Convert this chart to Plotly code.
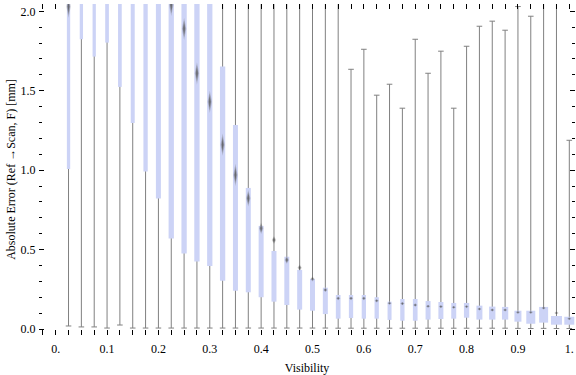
import plotly.graph_objects as go

# ---- data ----
visibility = [0.025, 0.05, 0.075, 0.1, 0.125, 0.15, 0.175, 0.2, 0.225, 0.25,
              0.275, 0.3, 0.325, 0.35, 0.375, 0.4, 0.425, 0.45, 0.475, 0.5,
              0.525, 0.55, 0.575, 0.6, 0.625, 0.65, 0.675, 0.7, 0.725, 0.75,
              0.775, 0.8, 0.825, 0.85, 0.875, 0.9, 0.925, 0.95, 0.975, 1.0]

whisker_low = [0.019, 0.013, 0.013, 0.006, 0.025, 0.006, 0.006, 0.006, 0.006, 0.006,
               0.006, 0.006, 0.006, 0.006, 0.006, 0.006, 0.006, 0.006, 0.006, 0.006,
               0.006, 0.005, 0.005, 0.005, 0.005, 0.005, 0.005, 0.005, 0.005, 0.005,
               0.005, 0.005, 0.005, 0.005, 0.005, 0.004, 0.003, 0.004, 0.003, 0.003]

q1 = [1.008, 1.824, 1.715, 1.803, 1.524, 1.297, 0.991, 0.821, 0.569, 0.476,
      0.425, 0.397, 0.304, 0.241, 0.231, 0.200, 0.172, 0.151, 0.122, 0.115,
      0.094, 0.065, 0.069, 0.065, 0.065, 0.057, 0.052, 0.052, 0.059, 0.063,
      0.065, 0.071, 0.059, 0.059, 0.059, 0.046, 0.033, 0.040, 0.027, 0.027]

median = [2.03, 2.30, 2.25, 2.30, 2.20, 2.15, 2.20, 2.15, 2.04, 1.89,
          1.61, 1.43, 1.16, 0.97, 0.823, 0.634, 0.560, 0.435, 0.386, 0.315,
          0.246, 0.193, 0.193, 0.193, 0.178, 0.162, 0.160, 0.151, 0.143, 0.141,
          0.137, 0.141, 0.126, 0.120, 0.120, 0.105, 0.105, 0.132, 0.101, 0.065]

q3 = [2.6, 2.9, 2.8, 2.9, 2.7, 2.6, 2.5, 2.5, 2.4, 2.3,
      2.2, 2.15, 1.652, 1.285, 0.888, 0.649, 0.491, 0.455, 0.372, 0.315,
      0.260, 0.214, 0.214, 0.214, 0.200, 0.172, 0.189, 0.189, 0.176, 0.170,
      0.164, 0.164, 0.147, 0.141, 0.139, 0.115, 0.115, 0.139, 0.082, 0.077]

whisker_high = [3.2, 3.3, 3.3, 3.3, 3.2, 3.1, 3.0, 3.0, 3.0, 2.9,
                2.9, 2.8, 2.7, 2.6, 2.5, 2.5, 2.4, 2.4, 2.3, 2.3,
                2.3, 2.2, 1.635, 1.761, 1.472, 1.541, 1.390, 1.824, 1.610, 1.749,
                1.390, 1.780, 1.906, 1.938, 1.881, 2.030, 1.969, 2.065, 2.300, 1.188]

x_tick_vals = [0, 0.1, 0.2, 0.3, 0.4, 0.5, 0.6, 0.7, 0.8, 0.9, 1.0]
x_tick_text = ["0.", "0.1", "0.2", "0.3", "0.4", "0.5", "0.6", "0.7", "0.8", "0.9", "1."]
y_tick_vals = [0.0, 0.5, 1.0, 1.5, 2.0]
y_tick_text = ["0.0", "0.5", "1.0", "1.5", "2.0"]

# ---- styling ----
W, H = 576, 375
M_L, M_R, M_T, M_B = 39, 1, 4, 40
X_RANGE = [-0.0325, 1.0111]
Y_RANGE = [-0.0378, 2.046]
px_x = (X_RANGE[1] - X_RANGE[0]) / (W - M_L - M_R)

# box widths in pixels (style)
box_px = [3.3, 3.3, 3.3, 3.7, 3.7, 4.0, 4.3, 5.0, 5.3, 5.3,
          5.3, 5.3, 5.3, 5.0, 5.0, 5.0, 5.0, 5.0, 5.0, 5.0,
          5.0, 4.7, 4.3, 4.3, 4.3, 4.0, 4.3, 4.7, 5.0, 5.0,
          5.0, 5.3, 6.0, 6.3, 6.3, 7.0, 9.0, 9.0, 11.0, 10.0]

FONT = "Liberation Serif"
BOX_COLOR = "rgb(204,211,246)"
WHISKER_COLOR = "rgb(128,128,128)"

fig = go.Figure()

# whiskers
wx, wy = [], []
for x, lo, hi in zip(visibility, whisker_low, whisker_high):
    wx += [x, x, None]
    wy += [lo, hi, None]
fig.add_trace(go.Scatter(x=wx, y=wy, mode="lines",
                         line=dict(color=WHISKER_COLOR, width=1),
                         hoverinfo="skip", showlegend=False, zorder=0))
# whisker caps
fig.add_trace(go.Scatter(x=visibility + visibility, y=whisker_low + whisker_high,
                         mode="markers",
                         marker=dict(symbol="line-ew", size=4,
                                     line=dict(color=WHISKER_COLOR, width=1)),
                         hoverinfo="skip", showlegend=False, zorder=0))

# boxes
fig.add_trace(go.Bar(x=visibility, base=q1,
                     y=[b - a for a, b in zip(q1, q3)],
                     width=[w * px_x for w in box_px],
                     marker=dict(color=BOX_COLOR, line=dict(width=0)),
                     hoverinfo="skip", showlegend=False, zorder=1))

# median marks (soft diamonds)
def diamonds(scale_w, scale_h):
    dx, dy = [], []
    for x, m, a, b in zip(visibility, median, q1, q3):
        hh = min(max(0.08 * (b - a), 0.010), 0.07) * scale_h
        hw = scale_w * px_x
        dx += [x, x + hw, x, x - hw, x, None]
        dy += [m + hh, m, m - hh, m, m + hh, None]
    return dx, dy

for sw, sh, col in [(2.2, 1.0, "rgba(110,110,110,0.3)"),
                    (1.3, 0.75, "rgba(85,85,85,0.45)"),
                    (0.7, 0.5, "rgba(70,70,70,0.5)")]:
    dx, dy = diamonds(sw, sh)
    fig.add_trace(go.Scatter(x=dx, y=dy, mode="lines", fill="toself",
                             fillcolor=col, line=dict(width=0),
                             hoverinfo="skip", showlegend=False, zorder=2))

axis_common = dict(showline=True, linecolor="black", linewidth=1,
                   mirror="ticks", ticks="inside", tickcolor="black",
                   showgrid=False, zeroline=False, automargin=False,
                   tickfont=dict(family=FONT, size=12, color="black"))

fig.update_xaxes(range=X_RANGE, tickvals=x_tick_vals, ticktext=x_tick_text,
                 ticklen=5, tickwidth=1, ticklabelstandoff=3,
                 minor=dict(dtick=0.025, tick0=0, ticks="inside", ticklen=5,
                            tickcolor="black", tickwidth=1, showgrid=False),
                 title=dict(text="Visibility", font=dict(family=FONT, size=12, color="black"),
                            standoff=8),
                 **axis_common)
fig.update_yaxes(range=Y_RANGE, tickvals=y_tick_vals, ticktext=y_tick_text,
                 ticklen=5, tickwidth=1,
                 minor=dict(dtick=0.1, tick0=0, ticks="inside", ticklen=3,
                            tickcolor="black", tickwidth=1, showgrid=False),
                 title=dict(text="Absolute Error (Ref \u2192Scan, F) [mm]",
                            font=dict(family=FONT, size=12, color="black"),
                            standoff=2),
                 **axis_common)

fig.update_layout(template="none", width=W, height=H, autosize=False,
                  margin=dict(l=M_L, r=M_R, t=M_T, b=M_B, autoexpand=False),
                  paper_bgcolor="white", plot_bgcolor="white",
                  barmode="overlay", showlegend=False,
                  font=dict(family=FONT, size=12, color="black"))

fig.write_html("out.html", config={"displayModeBar": False},
               post_script="document.body.style.margin='0';document.body.style.overflow='hidden';")
